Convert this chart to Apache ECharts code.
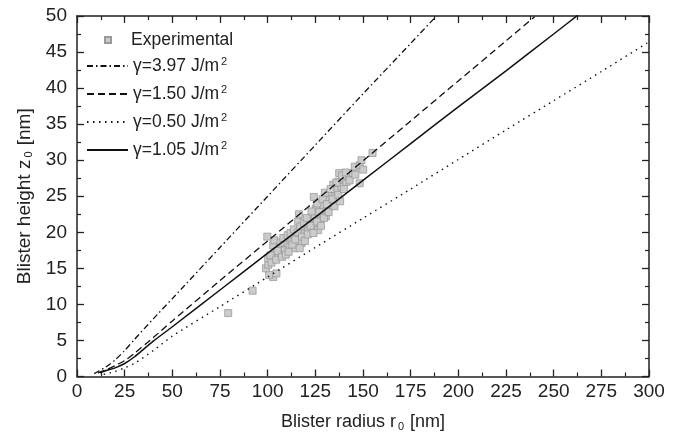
<!DOCTYPE html>
<html><head><meta charset="utf-8">
<script src="https://cdn.jsdelivr.net/npm/echarts@6/dist/echarts.min.js"></script>
<style>html,body{margin:0;padding:0;background:#fff}#c{width:686px;height:438px}</style>
</head><body><div id="c"></div>
<script>
// ---- data ----
const xTickLabels = [0,25,50,75,100,125,150,175,200,225,250,275,300];
const yTickLabels = [0,5,10,15,20,25,30,35,40,45,50];

const expR = [79.3,92.1,102.9,100.8,104.6,99.1,100.3,100.3,99.8,102.9,103.8,106.0,106.4,109.0,109.9,111.6,112.5,114.3,115.1,116.5,116.0,116.4,117.8,118.6,120.0,121.3,122.1,123.9,124.7,125.3,124.2,126.5,127.4,128.2,129.1,130.5,130.9,131.7,132.6,133.5,134.4,135.2,136.1,137.0,137.5,138.7,139.6,141.3,142.2,148.3,144.8,145.7,148.3,149.2,150.1,155.0,
  101.5,102,103.5,104.5,105.2,106.8,107.5,108.2,109.5,110.5,111,112,113,113.8,114.5,115.8,116.8,117.2,118,119,119.5,120.5,121,122.5,123,124,125.8,126,127,128,128.8,129.5,130,131,132,133,134,135,136,137,138,139,140,141,143,146];
const expZ = [8.8,11.9,13.8,14.1,14.3,15.0,15.5,16.4,19.4,18.2,17.1,16.9,17.8,17.5,18.5,18.0,18.9,17.8,18.7,19.4,21.5,22.5,18.5,20.1,21.0,20.3,21.7,21.0,22.4,23.3,24.9,20.3,21.7,22.6,23.8,22.2,24.5,23.3,25.4,24.0,26.6,25.0,25.9,27.0,28.2,26.3,27.5,27.0,27.7,26.8,28.2,29.1,29.3,30.0,28.7,31.0,
  16.8,15.8,18.9,16.2,17.4,18.6,16.6,19.2,16.9,19.6,17.3,19.9,18.3,20.4,19.0,20.0,17.8,20.8,19.4,21.3,18.8,22.0,19.7,20.9,22.9,19.9,21.5,24.0,22.8,20.9,24.6,22.0,25.5,23.9,22.8,26.0,24.6,23.6,26.9,25.2,24.3,27.9,26.0,28.3,27.2,28.0];

const g397R = [9,15,20,25,30,40,50,75,100,125,150,175,188.5];
const g397Z = [0.4,1.3,2.3,3.6,5.1,8.0,10.8,17.9,25.0,32.1,39.2,46.2,50.0];

const g150R = [11,15,20,25,30,40,50,75,100,125,150,175,200,225,240];
const g150Z = [0.5,0.9,1.5,2.2,3.2,5.4,7.7,13.3,18.8,24.35,29.9,35.45,41.0,46.55,49.9];

const g050R = [14,20,25,30,40,50,75,100,125,150,175,200,225,250,275,300];
const g050Z = [0.3,0.7,1.2,1.8,3.6,5.6,9.7,13.8,17.9,21.95,26.0,30.1,34.2,38.25,42.3,46.4];

const g105R = [12,15,20,25,30,40,50,75,100,125,150,175,200,225,250,265];
const g105Z = [0.5,0.8,1.2,1.8,2.7,4.9,6.9,12.0,17.1,22.1,27.2,32.3,37.4,42.4,47.5,50.6];

const seriesNames = ['Experimental','γ=3.97 J/m2','γ=1.50 J/m2','γ=0.50 J/m2','γ=1.05 J/m2'];

// ---- build ----
const zip = (a,b) => a.map((v,i)=>[v,b[i]]);
const FONT = "'Liberation Sans', Arial, sans-serif";
const TXT = '#222';
const axisCommon = {
  type:'value',
  axisLine:{show:true,onZero:false,lineStyle:{color:'#222',width:1.5}},
  axisTick:{show:true,inside:true,length:7,lineStyle:{color:'#222',width:1.3}},
  minorTick:{show:true,splitNumber:2,length:4,lineStyle:{color:'#222',width:1.2}},
  splitLine:{show:false}
};
const xMin = xTickLabels[0], xMax = xTickLabels[xTickLabels.length-1], xInt = xTickLabels[1]-xTickLabels[0];
const yMin = yTickLabels[0], yMax = yTickLabels[yTickLabels.length-1], yInt = yTickLabels[1]-yTickLabels[0];

const chart = echarts.init(document.getElementById('c'), null, {renderer:'canvas'});
const supRich = {sup:{fontSize:11,fontFamily:FONT,color:TXT,verticalAlign:'bottom',padding:[0,0,9,2]}};
const subRich = {sub:{fontSize:11,color:TXT,fontFamily:FONT,verticalAlign:'top',padding:[10,1,0,2]}};
const lineSeries = (name,r,z,type,width,zz) => ({
  name, type:'line', data:zip(r,z), symbol:'none', smooth:0.25, clip:true, z:zz,
  itemStyle:{color:'#111'},
  lineStyle:{color:'#111',width,type}
});

chart.setOption({
  animation:false,
  backgroundColor:'#fff',
  textStyle:{fontFamily:FONT},
  grid:{left:77,right:37,top:16,bottom:61.5},
  xAxis:[
    Object.assign({}, axisCommon, {position:'bottom',min:xMin,max:xMax,interval:xInt,
      axisLabel:{margin:6,fontSize:19,color:TXT,fontFamily:FONT},
      name:'Blister radius r{sub|0} [nm]',nameLocation:'middle',nameGap:35,
      nameTextStyle:{fontSize:18,color:TXT,fontFamily:FONT,rich:subRich}}),
    Object.assign({}, axisCommon, {position:'top',min:xMin,max:xMax,interval:xInt,axisLabel:{show:false}})
  ],
  yAxis:[
    Object.assign({}, axisCommon, {position:'left',min:yMin,max:yMax,interval:yInt,
      axisLabel:{margin:10,fontSize:19,color:TXT,fontFamily:FONT},
      name:'Blister height z{sub|0} [nm]',nameLocation:'middle',nameGap:42,nameRotate:90,
      nameTextStyle:{fontSize:19,color:TXT,fontFamily:FONT,rich:subRich}}),
    Object.assign({}, axisCommon, {position:'right',min:yMin,max:yMax,interval:yInt,axisLabel:{show:false}})
  ],
  legend:[
    {data:[{name:seriesNames[0],icon:'rect'}], orient:'vertical', left:99, top:26,
      itemWidth:6,itemHeight:6, selectedMode:false,
      textStyle:{fontSize:17.5,color:TXT,fontFamily:FONT,padding:[0,0,0,15]}},
    {data:seriesNames.slice(1), orient:'vertical', left:81, top:51, itemWidth:41, itemHeight:14, itemGap:8,
      selectedMode:false, itemStyle:{opacity:0},
      formatter: n => n.slice(0,-1)+'{sup|2}',
      textStyle:{fontSize:17.5,color:TXT,fontFamily:FONT,lineHeight:20,rich:supRich}}
  ],
  series:[
    {name:seriesNames[0],type:'scatter',data:zip(expR,expZ),symbol:'rect',symbolSize:7,z:2,
      itemStyle:{color:'#cbcbcb',borderColor:'#9a9a9a',borderWidth:0.8,opacity:1}},
    lineSeries(seriesNames[1],g397R,g397Z,[6,3,1.5,3],1.3,3),
    lineSeries(seriesNames[2],g150R,g150Z,[7,4],1.3,3),
    lineSeries(seriesNames[3],g050R,g050Z,[1.5,4.5],1.4,3),
    lineSeries(seriesNames[4],g105R,g105Z,'solid',1.5,4)
  ]
});
</script></body></html>
